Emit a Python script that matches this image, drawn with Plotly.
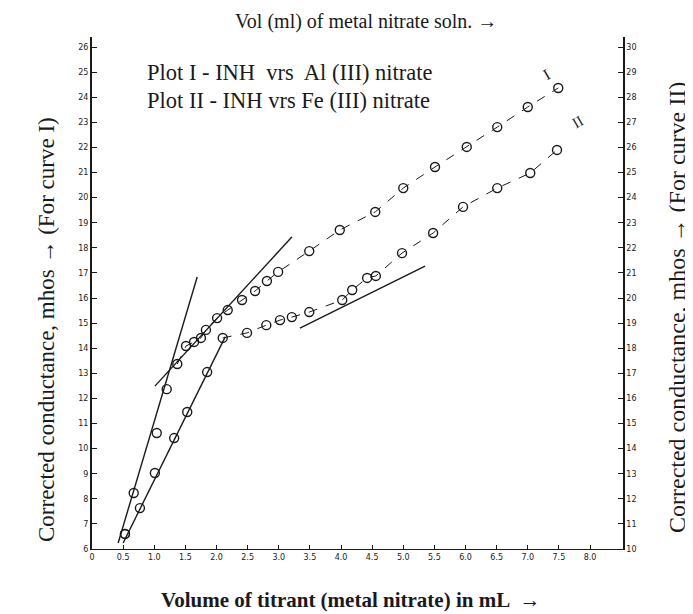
import plotly.graph_objects as go

# ---- data ----
vol_I = [0.53, 0.67, 1.04, 1.20, 1.37, 1.51, 1.64, 1.75, 1.83, 2.01, 2.18, 2.41, 2.62, 2.81, 2.99,
         3.49, 3.98, 4.55, 5.00, 5.51, 6.02, 6.51, 7.00, 7.49]
cond_I = [6.60, 8.23, 10.62, 12.37, 13.37, 14.09, 14.25, 14.41, 14.73, 15.20, 15.52, 15.92, 16.28,
          16.68, 17.04, 17.87, 18.71, 19.43, 20.38, 21.22, 22.02, 22.81, 23.61, 24.37]

vol_II = [0.53, 0.77, 1.01, 1.32, 1.53, 1.85, 2.10, 2.49, 2.80, 3.02, 3.21, 3.49, 4.02, 4.18,
          4.42, 4.56, 4.98, 5.48, 5.96, 6.51, 7.04, 7.47]
cond_II = [10.60, 11.63, 13.03, 14.42, 15.46, 17.05, 18.41, 18.61, 18.92, 19.12, 19.24, 19.44,
           19.92, 20.32, 20.80, 20.88, 21.79, 22.59, 23.63, 24.38, 24.98, 25.90]

# hand-drawn straight-line fits (end points)
fitI_a_x, fitI_a_y = [0.42, 1.69], [6.24, 16.84]
fitI_b_x, fitI_b_y = [1.01, 3.21], [12.49, 18.43]
fitII_a_x, fitII_a_y = [0.50, 2.14], [10.24, 18.45]
fitII_b_x, fitII_b_y = [3.34, 5.35], [18.80, 21.27]

x_ticks = [0, 0.5, 1.0, 1.5, 2.0, 2.5, 3.0, 3.5, 4.0, 4.5, 5.0, 5.5, 6.0, 6.5, 7.0, 7.5, 8.0]
x_tick_text = ["0", "0.5", "1.0", "1.5", "2.0", "2.5", "3.0", "3.5", "4.0", "4.5", "5.0",
               "5.5", "6.0", "6.5", "7.0", "7.5", "8.0"]
yL_ticks = list(range(6, 27))
yR_ticks = list(range(10, 31))

INK = "#1a1a1a"
SERIF = "Liberation Serif"

fig = go.Figure()

# fit lines
for xs, ys, ax in [(fitI_a_x, fitI_a_y, "y"), (fitI_b_x, fitI_b_y, "y"),
                   (fitII_a_x, fitII_a_y, "y2"), (fitII_b_x, fitII_b_y, "y2")]:
    fig.add_trace(go.Scatter(x=xs, y=ys, mode="lines", yaxis=ax, showlegend=False,
                             line=dict(color=INK, width=1.4)))

# dashed joins through upper points
fig.add_trace(go.Scatter(x=vol_I[4:], y=cond_I[4:], mode="lines", showlegend=False,
                         line=dict(color=INK, width=1, dash="dash")))
fig.add_trace(go.Scatter(x=vol_II[6:], y=cond_II[6:], mode="lines", yaxis="y2", showlegend=False,
                         line=dict(color=INK, width=1, dash="dash")))

# points
fig.add_trace(go.Scatter(x=vol_I, y=cond_I, mode="markers", showlegend=False,
                         marker=dict(symbol="circle-open", size=9, color=INK, line=dict(width=1.4))))
fig.add_trace(go.Scatter(x=vol_II, y=cond_II, mode="markers", yaxis="y2", showlegend=False,
                         marker=dict(symbol="circle-open", size=9, color=INK, line=dict(width=1.4))))

tickfont = dict(family="DejaVu Sans", size=8, color="#222")

# page has an 8px body margin; figure is sized so the plot sits where the reference's does
fig.update_layout(
    width=685, height=606,
    margin=dict(l=84, r=70, t=29, b=65),
    paper_bgcolor="white", plot_bgcolor="white",
    xaxis=dict(range=[0, 8.53], tickvals=x_ticks, ticktext=x_tick_text, ticks="inside",
               ticklen=4, tickcolor=INK, showline=True, linecolor=INK, linewidth=1,
               showgrid=False, zeroline=False, tickfont=tickfont),
    yaxis=dict(range=[6, 26.4], tickvals=yL_ticks, ticks="inside", ticklen=5, tickcolor=INK,
               showline=True, linecolor=INK, linewidth=2, showgrid=False, zeroline=False,
               tickfont=tickfont),
    yaxis2=dict(range=[10, 30.4], tickvals=yR_ticks, ticks="inside", ticklen=5, tickcolor=INK,
                overlaying="y", side="right", showline=True, linecolor=INK, linewidth=1.5,
                showgrid=False, zeroline=False, tickfont=tickfont),
)

def px_x(X):
    return (X - 92) / 531.0

def px_y(Y):
    return (549 - Y) / 512.0

ann = [
    dict(text="Vol (ml) of metal nitrate soln. →", x=366, y=21, size=20, angle=0),
    dict(text="<b>Volume of titrant (metal nitrate) in mL  →</b>", x=351, y=600, size=21, angle=0),
    dict(text="Corrected conductance, mhos → (For curve I)", x=46, y=330, size=23, angle=-90),
    dict(text="Corrected conductance, mhos → (For curve II)", x=677, y=308, size=24, angle=-90),
]
for a in ann:
    fig.add_annotation(text=a["text"], xref="paper", yref="paper",
                       x=px_x(a["x"]), y=px_y(a["y"]),
                       showarrow=False, textangle=a["angle"],
                       font=dict(family=SERIF, size=a["size"], color=INK),
                       xanchor="center", yanchor="middle")

for txt, yy in [("Plot I - INH  vrs  Al (III) nitrate", 72), ("Plot II - INH vrs Fe (III) nitrate", 100)]:
    fig.add_annotation(text=txt, xref="paper", yref="paper", x=px_x(145), y=px_y(yy),
                       showarrow=False, xanchor="left", yanchor="middle",
                       font=dict(family=SERIF, size=22.5, color=INK))

fig.add_annotation(text="I", x=7.3, y=24.9, showarrow=False, textangle=-30,
                   font=dict(family=SERIF, size=16, color=INK))
fig.add_annotation(text="II", x=7.8, y=27.0, yref="y2", showarrow=False, textangle=-30,
                   font=dict(family=SERIF, size=15, color=INK))

fig.write_html("out.html")
